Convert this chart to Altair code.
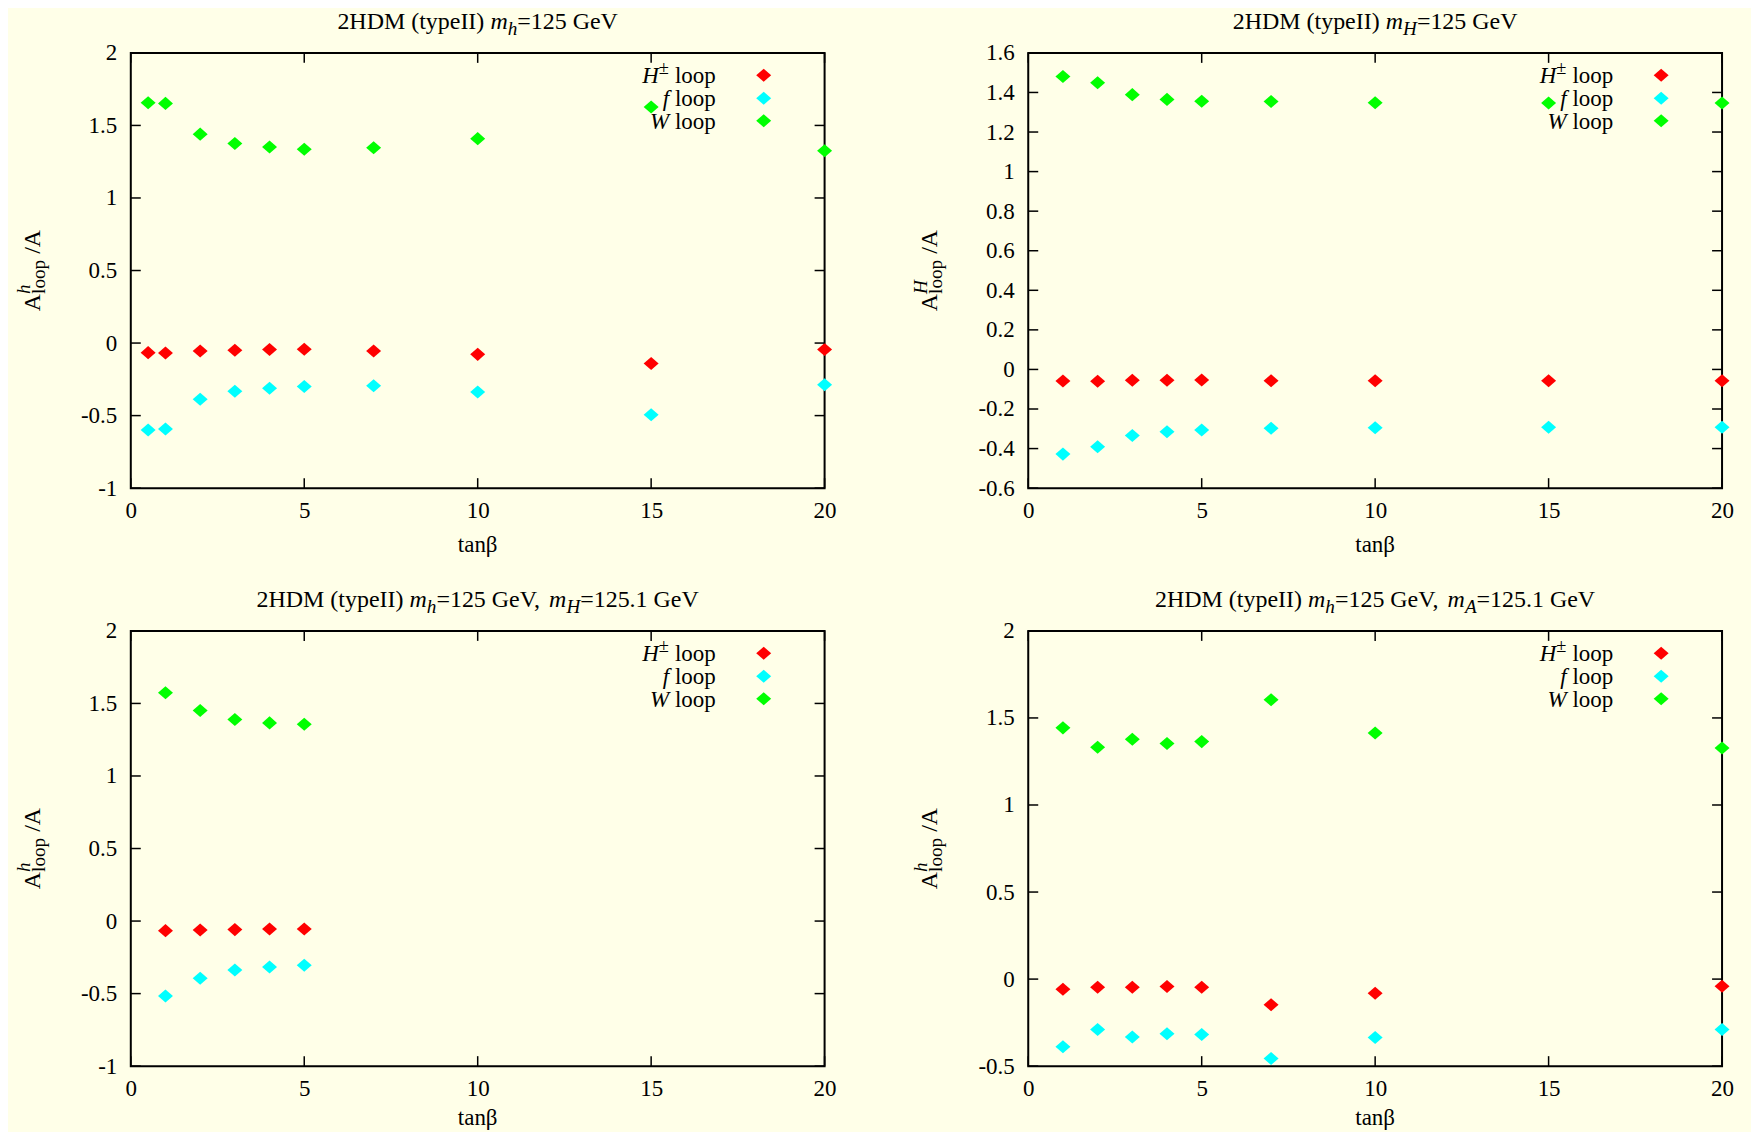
import altair as alt
import pandas as pd

# ---------------- data ----------------
SERIES = ["H± loop", "f loop", "W loop"]
COLORS = ["#ff0000", "#00ffff", "#00ff00"]

X_TICKS = [0, 5, 10, 15, 20]
Y_TICKS_A = [-1, -0.5, 0, 0.5, 1, 1.5, 2]
Y_TICKS_B = [-0.6, -0.4, -0.2, 0, 0.2, 0.4, 0.6, 0.8, 1, 1.2, 1.4, 1.6]
Y_TICKS_C = [-0.5, 0, 0.5, 1, 1.5, 2]

# panel 1: 2HDM (typeII) m_h = 125 GeV
tanb_1 = [0.5, 1, 2, 3, 4, 5, 7, 10, 15, 20]
hpm_1 = [-0.066, -0.068, -0.054, -0.050, -0.045, -0.042, -0.054, -0.078, -0.141, -0.045]
ferm_1 = [-0.600, -0.592, -0.387, -0.332, -0.311, -0.299, -0.294, -0.337, -0.494, -0.287]
wbos_1 = [1.657, 1.652, 1.440, 1.376, 1.351, 1.336, 1.346, 1.409, 1.627, 1.326]

# panel 2: 2HDM (typeII) m_H = 125 GeV
tanb_2 = [1, 2, 3, 4, 5, 7, 10, 15, 20]
hpm_2 = [-0.058, -0.060, -0.055, -0.055, -0.053, -0.057, -0.057, -0.057, -0.057]
ferm_2 = [-0.428, -0.391, -0.334, -0.315, -0.306, -0.297, -0.295, -0.292, -0.292]
wbos_2 = [1.481, 1.449, 1.389, 1.365, 1.356, 1.354, 1.348, 1.347, 1.347]

# panel 3: m_h = 125 GeV, m_H = 125.1 GeV
tanb_3 = [1, 2, 3, 4, 5]
hpm_3 = [-0.066, -0.061, -0.059, -0.054, -0.054]
ferm_3 = [-0.517, -0.394, -0.337, -0.317, -0.304]
wbos_3 = [1.574, 1.452, 1.389, 1.366, 1.356]

# panel 4: m_h = 125 GeV, m_A = 125.1 GeV
tanb_4 = [1, 2, 3, 4, 5, 7, 10, 20]
hpm_4 = [-0.058, -0.047, -0.047, -0.043, -0.047, -0.147, -0.081, -0.041]
ferm_4 = [-0.389, -0.289, -0.333, -0.314, -0.318, -0.456, -0.335, -0.289]
wbos_4 = [1.443, 1.332, 1.378, 1.353, 1.364, 1.604, 1.414, 1.328]

TITLE_1 = [("2HDM (typeII) ", "r"), ("m", "i"), ("h", "isub"), ("=125 GeV", "r")]
TITLE_2 = [("2HDM (typeII) ", "r"), ("m", "i"), ("H", "isub"), ("=125 GeV", "r")]
TITLE_3 = [("2HDM (typeII) ", "r"), ("m", "i"), ("h", "isub"), ("=125 GeV, ", "r"),
           ("m", "i"), ("H", "isub"), ("=125.1 GeV", "r")]
TITLE_4 = [("2HDM (typeII) ", "r"), ("m", "i"), ("h", "isub"), ("=125 GeV, ", "r"),
           ("m", "i"), ("A", "isub"), ("=125.1 GeV", "r")]

LEGEND_LABELS = [[("H", "i"), ("±", "rsup"), (" loop", "r")],
                 [("f", "i"), (" loop", "r")],
                 [("W", "i"), (" loop", "r")]]

# ---------------- styling ----------------
FONT = "Liberation Serif"
BG = "#FFFFE8"
W, H = 695, 436
DIAMOND = "M-1,0L0,-0.87L1,0L0,0.87Z"
ONE = pd.DataFrame({"k": [0]})

ROMAN = {' ': 250, '(': 333, ')': 333, '.': 250, ',': 250, '=': 564, '±': 564, '/': 278,
         'A': 722, 'D': 722, 'G': 722, 'H': 722, 'I': 333, 'M': 889, 'V': 722, 'W': 944,
         'a': 444, 'e': 444, 'l': 278, 'n': 500, 'o': 500, 'p': 500, 't': 278, 'y': 500}
ITALIC = {'m': 722, 'h': 500, 'H': 722, 'A': 611, 'f': 278, 'W': 833}


def tw(s, size, italic=False):
    table = ITALIC if italic else ROMAN
    return sum(table.get(c, 500) for c in s) * size / 1000.0


def txt(s, x, y, size, italic=False, angle=0, align="left", baseline="alphabetic"):
    kw = dict(text=s, font=FONT, fontSize=size, color="black", align=align, baseline=baseline)
    if italic:
        kw["fontStyle"] = "italic"
    if angle:
        kw["angle"] = angle
    return alt.Chart(ONE).mark_text(**kw).encode(x=alt.value(x), y=alt.value(y))


def seg_info(text, style, size):
    small = style.endswith("sub") or style.endswith("sup")
    sz = size * 0.8 if small else size
    it = style.startswith("i")
    dy = 6 if style.endswith("sub") else (-9 if style.endswith("sup") else 0)
    return sz, it, dy


def hsegs(segs, size, y, x_center=None, x_right=None):
    infos = [seg_info(t, s, size) for t, s in segs]
    widths = [tw(t, sz, it) for (t, _), (sz, it, _) in zip(segs, infos)]
    total = sum(widths)
    x = x_center - total / 2 if x_center is not None else x_right - total
    out = []
    for (t, _), (sz, it, dy), wdt in zip(segs, infos, widths):
        lead = len(t) - len(t.lstrip(" "))
        if t.strip():
            out.append(txt(t.strip(), x + tw(" " * lead, sz, it), y + dy, sz, italic=it))
        x += wdt
    return out


def ytitle(sup, bx, cy, size=24):
    small = size * 0.8
    wA = tw("A", size)
    wl = tw("loop", small)
    total = wA + wl + tw(" /A", size)
    y0 = cy + total / 2
    y1 = y0 - wA
    y2 = y1 - wl - tw(" ", size)
    return [txt("A", bx, y0, size, angle=270),
            txt(sup, bx - 10, y1, small, italic=True, angle=270),
            txt("loop", bx + 5, y1, small, angle=270),
            txt("/A", bx, y2, size, angle=270)]


LABEL_EXPR = ("datum.value < 0 ? '-' + format(-datum.value, '.1~f') "
              ": format(datum.value, '.1~f')")


def panel(tb, hpm, ferm, wbos, ydom, yticks, title, sup, xt_off):
    n = len(tb)
    df = pd.DataFrame({"tb": tb * 3, "v": hpm + ferm + wbos,
                       "s": [SERIES[0]] * n + [SERIES[1]] * n + [SERIES[2]] * n})
    xs = alt.Scale(domain=[0, 20], nice=False, zero=False)
    ys = alt.Scale(domain=ydom, nice=False, zero=False)
    common = dict(title=None, ticks=False, domain=False, grid=False, labelFont=FONT,
                  labelFontSize=23, labelColor="black", labelFlush=False, labelOverlap=False)
    xax = alt.Axis(values=X_TICKS, labelPadding=11, **common)
    yax = alt.Axis(values=yticks, labelPadding=14, labelExpr=LABEL_EXPR, **common)
    pts = alt.Chart(df).mark_point(shape=DIAMOND, size=225, filled=True, opacity=1,
                                   strokeWidth=0).encode(
        x=alt.X("tb:Q", scale=xs, axis=xax),
        y=alt.Y("v:Q", scale=ys, axis=yax),
        color=alt.Color("s:N", scale=alt.Scale(domain=SERIES, range=COLORS), legend=None),
    )
    ydf = pd.DataFrame({"v": yticks})
    xdf = pd.DataFrame({"tb": X_TICKS})
    rule = dict(color="black", strokeWidth=1.5)
    ticks = [
        alt.Chart(ydf).mark_rule(**rule).encode(y=alt.Y("v:Q", scale=ys, axis=yax),
                                                x=alt.value(0), x2=alt.value(10)),
        alt.Chart(ydf).mark_rule(**rule).encode(y=alt.Y("v:Q", scale=ys, axis=yax),
                                                x=alt.value(W - 10), x2=alt.value(W)),
        alt.Chart(xdf).mark_rule(**rule).encode(x=alt.X("tb:Q", scale=xs, axis=xax),
                                                y=alt.value(0), y2=alt.value(10)),
        alt.Chart(xdf).mark_rule(**rule).encode(x=alt.X("tb:Q", scale=xs, axis=xax),
                                                y=alt.value(H - 10), y2=alt.value(H)),
    ]
    # legend (inside, top right)
    leg = []
    for i, (row_y, lab) in enumerate(zip([22.5, 45.5, 68.0], LEGEND_LABELS)):
        leg.append(alt.Chart(ONE).mark_point(shape=DIAMOND, size=225, filled=True, opacity=1,
                                             strokeWidth=0, color=COLORS[i]).encode(
            x=alt.value(634), y=alt.value(row_y)))
        leg += hsegs(lab, 23, row_y + 8, x_right=586)
    texts = hsegs(title, 24, -24, x_center=W / 2)
    texts += ytitle(sup, -91, H / 2)
    texts.append(txt("tanβ", W / 2, H + xt_off, 23, align="center", baseline="middle"))
    return alt.layer(pts, *ticks, *leg, *texts).properties(width=W, height=H)


p1 = panel(tanb_1, hpm_1, ferm_1, wbos_1, [-1, 2], Y_TICKS_A, TITLE_1, "h", 57)
p2 = panel(tanb_2, hpm_2, ferm_2, wbos_2, [-0.6, 1.6], Y_TICKS_B, TITLE_2, "H", 57)
p3 = panel(tanb_3, hpm_3, ferm_3, wbos_3, [-1, 2], Y_TICKS_A, TITLE_3, "h", 52)
p4 = panel(tanb_4, hpm_4, ferm_4, wbos_4, [-0.5, 2], Y_TICKS_C, TITLE_4, "h", 52)

chart = alt.concat(p1, p2, p3, p4, columns=2).properties(
    bounds="flush",
    spacing={"row": 143, "column": 204},
    background=BG,
    padding={"left": 6, "top": 0, "right": 16, "bottom": 0},
).configure_view(
    stroke="black", strokeWidth=2
)

chart.save("out.html", embed_options={"renderer": "svg", "actions": False})
